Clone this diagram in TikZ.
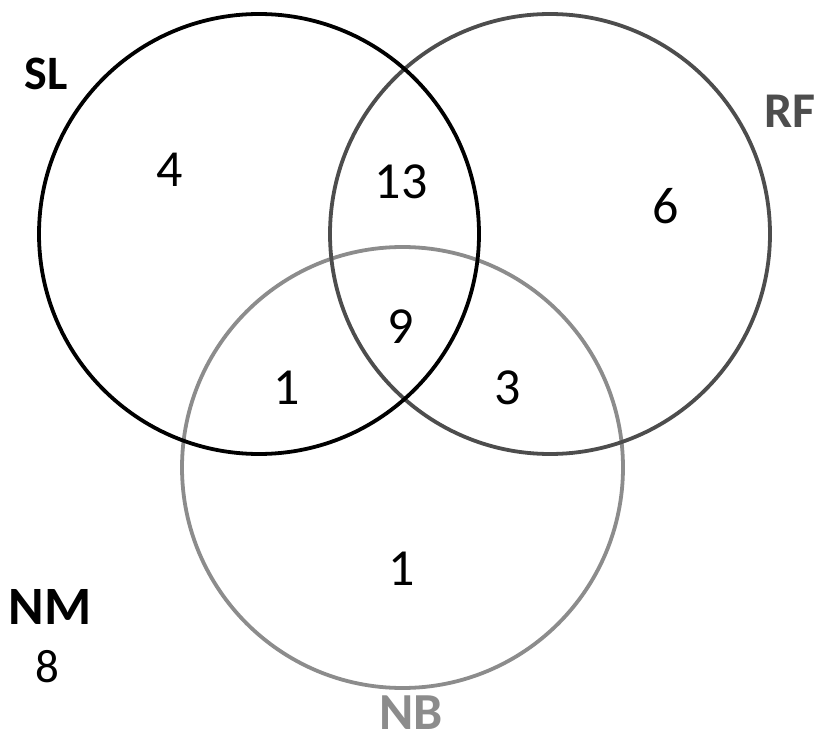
\documentclass[tikz,border=0pt]{standalone}
\usepackage{fontspec}
\setmainfont{Carlito}
\definecolor{rfgray}{HTML}{4D4D4D}
\definecolor{nbgray}{HTML}{8C8C8C}
\begin{document}
\begin{tikzpicture}[x=1pt,y=-1pt,
  setline/.style={line width=3.8pt},
  setlabel/.style={inner sep=0pt,font=\fontsize{48}{48}\selectfont\bfseries},
  countlabel/.style={inner sep=0pt,font=\fontsize{52}{52}\selectfont}]
\useasboundingbox[fill=white] (0,0) rectangle (819,743);
% circles
\draw[setline,nbgray] (402.5,467.5) circle[radius=220.5];
\draw[setline,rfgray] (550,234) circle[radius=220];
\draw[setline,black] (259,234) circle[radius=220];
% set labels
\node[setlabel,black] (sl) at (46,74) {SL};
\node[setlabel,rfgray,font=\fontsize{50}{50}\selectfont\bfseries] (rf) at (790,111) {RF};
\node[setlabel,nbgray,font=\fontsize{52}{52}\selectfont\bfseries] (nb) at (411,713) {NB};
\node[setlabel,black,font=\fontsize{54}{54}\selectfont\bfseries] (nm) at (50,607) {NM};
\node[countlabel,font=\fontsize{47}{47}\selectfont] (nmv) at (47,667) {8};
% region counts
\node[countlabel] (c4) at (170,170) {4};
\node[countlabel] (c13) at (401,182) {13};
\node[countlabel] (c6) at (666,206) {6};
\node[countlabel] (c9) at (401,327) {9};
\node[countlabel] (c1a) at (287,388) {1};
\node[countlabel] (c3) at (508,388) {3};
\node[countlabel] (c1b) at (402,569) {1};
\end{tikzpicture}
\end{document}
